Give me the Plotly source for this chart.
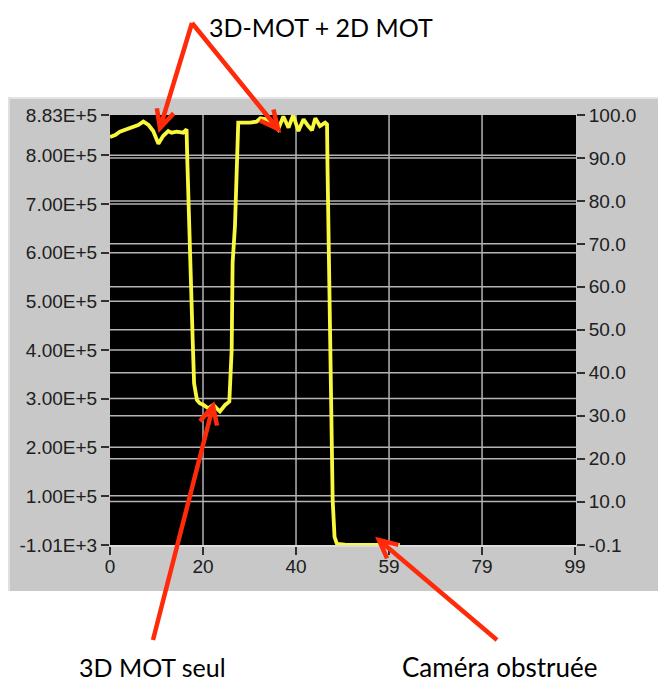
import math
import plotly.graph_objects as go

# sample index and signal
t = [0, 1.1, 2.1, 3.5, 5, 6, 7.1, 8.2, 9.2, 10.3, 11.3, 12.4, 13.1, 14.2, 15.6, 16.3,
     16.45, 16.9, 17.2, 17.6, 17.9, 18.5, 19.1, 19.9, 20.9, 22, 22.7, 23.4, 24.5, 25.4,
     25.9, 26.1, 26.6, 27, 27.3,
     28, 29.8, 31.2, 32, 33.4, 34.8, 35.8, 36.9, 38, 39, 40.1, 41.2, 42.2, 43, 43.7,
     44.7, 45.8, 46.2,
     46.3, 46.6, 46.9, 47.1, 47.4, 47.8, 48.3,
     50, 52, 54, 56, 58, 60, 61.7]
signal = [837700, 841800, 848800, 853500, 857000, 862400, 869400, 862400, 850000, 824000,
          839700, 850000, 846700, 848800, 846700, 853500,
          791700, 626900, 503200, 420800, 331600, 297200, 290400, 286900, 280000, 286900,
          280000, 273700, 286900, 293700, 400200, 578900, 654300, 791700, 867300,
          867300, 867300, 869400, 876200, 874100, 865300, 853500, 880000, 857000, 883000,
          850000, 874100, 860300, 851500, 876200, 860300, 867300, 863800,
          777900, 585700, 393400, 256000, 91200, 15500, 1500,
          -300, -600, -1010, -800, -500, -900, -700]

# axis ticks
x_ticks = [0, 19.8, 39.6, 59.4, 79.2, 99]
x_labels = ["0", "20", "40", "59", "79", "99"]
y_ticks = [-1010, 100000, 200000, 300000, 400000, 500000, 600000, 700000, 800000, 883000]
y_labels = ["-1.01E+3", "1.00E+5", "2.00E+5", "3.00E+5", "4.00E+5", "5.00E+5",
            "6.00E+5", "7.00E+5", "8.00E+5", "8.83E+5"]
y2_ticks = [-0.1, 10, 20, 30, 40, 50, 60, 70, 80, 90, 100]
y2_labels = ["-0.1", "10.0", "20.0", "30.0", "40.0", "50.0", "60.0", "70.0", "80.0",
             "90.0", "100.0"]

# page geometry: the page body adds an 8px margin, so work in screen pixels and shift
OFF = 8
W, H = 666, 682
SL, SR, ST, SB = 110, 576, 115, 545   # plot area on screen
L, T = SL - OFF, ST - OFF
R, B = W - (SR - OFF), H - (SB - OFF)
PW, PH = SR - SL, SB - ST


def px(xp):
    return (xp - SL) / PW


def py(yp):
    return (SB - yp) / PH


RED = "#ff2a0a"


def arrow(x0, y0, x1, y1, head=20, ang=26):
    a = math.atan2(y0 - y1, x0 - x1)
    h1 = (x1 + head * math.cos(a + math.radians(ang)), y1 + head * math.sin(a + math.radians(ang)))
    h2 = (x1 + head * math.cos(a - math.radians(ang)), y1 + head * math.sin(a - math.radians(ang)))
    path = (f"M {px(x0)} {py(y0)} L {px(x1)} {py(y1)} "
            f"M {px(h1[0])} {py(h1[1])} L {px(x1)} {py(y1)} L {px(h2[0])} {py(h2[1])}")
    return dict(type="path", xref="paper", yref="paper", path=path,
                line=dict(color=RED, width=4.5), layer="above")


shapes = [
    # grey LabVIEW panel
    dict(type="rect", xref="paper", yref="paper", x0=px(8), x1=px(W + 10), y0=py(591), y1=py(97),
         fillcolor="#c8c8c8", line=dict(width=0), layer="below"),
    dict(type="line", xref="paper", yref="paper", x0=px(8), x1=px(W + 10), y0=py(98), y1=py(98),
         line=dict(color="#e4e4e4", width=2), layer="below"),
    dict(type="line", xref="paper", yref="paper", x0=px(9), x1=px(9), y0=py(591), y1=py(97),
         line=dict(color="#e0e0e0", width=2), layer="below"),
    # black plot area
    dict(type="rect", xref="paper", yref="paper", x0=0, x1=1, y0=0, y1=1,
         fillcolor="black", line=dict(width=0), layer="below"),
]
grid = dict(color="#b4b4b4", width=1.5)
for v in x_ticks[1:-1]:
    shapes.append(dict(type="line", xref="x", yref="paper", x0=v, x1=v, y0=0, y1=1,
                       line=grid, layer="below"))
for v in y_ticks[1:-1]:
    shapes.append(dict(type="line", xref="paper", yref="y", x0=0, x1=1, y0=v, y1=v,
                       line=grid, layer="below"))
for v in y2_ticks[1:-1]:
    shapes.append(dict(type="line", xref="paper", yref="y2", x0=0, x1=1, y0=v, y1=v,
                       line=grid, layer="below"))

shapes += [
    arrow(192, 23, 160, 128),
    arrow(192, 23, 278, 129),
    arrow(153, 640, 213, 406),
    arrow(497, 640, 379, 540),
]

fig = go.Figure()
fig.add_trace(go.Scatter(x=t, y=signal, mode="lines",
                         line=dict(color="#f8f83c", width=3.8), showlegend=False))
fig.add_trace(go.Scatter(x=[None], y=[None], yaxis="y2", showlegend=False, hoverinfo="skip"))

tick_font = dict(family="Liberation Sans, Arial, sans-serif", size=19, color="#202020")
axis_common = dict(showgrid=False, zeroline=False, ticks="outside", ticklen=8, tickwidth=1.5,
                   tickcolor="#303030", tickfont=tick_font)
note_font = dict(family="Lato, Open Sans, sans-serif", size=25, color="black")

fig.update_layout(
    width=W, height=H,
    margin=dict(l=L, r=R, t=T, b=B),
    paper_bgcolor="white",
    plot_bgcolor="black",
    showlegend=False,
    xaxis=dict(range=[0, 99.2], tickvals=x_ticks, ticktext=x_labels, ticklabelstandoff=-5,
               showline=True, linecolor="#dcdcdc", linewidth=2, **axis_common),
    yaxis=dict(range=[-1010, 883000], tickvals=y_ticks, ticktext=y_labels, **axis_common),
    yaxis2=dict(range=[-0.1, 100.0], tickvals=y2_ticks, ticktext=y2_labels,
                overlaying="y", side="right", anchor="x", **axis_common),
    shapes=shapes,
    annotations=[
        dict(text="3D-MOT + 2D MOT", xref="paper", yref="paper", x=px(321), y=py(27),
             xanchor="center", yanchor="middle", showarrow=False, font=note_font),
        dict(text="3D MOT seul", xref="paper", yref="paper", x=px(152), y=py(667),
             xanchor="center", yanchor="middle", showarrow=False, font=note_font),
        dict(text="Caméra obstruée", xref="paper", yref="paper", x=px(500), y=py(667),
             xanchor="center", yanchor="middle", showarrow=False,
             font=dict(family="Lato, Open Sans, sans-serif", size=26, color="black")),
    ],
)

fig.write_html("out.html")
